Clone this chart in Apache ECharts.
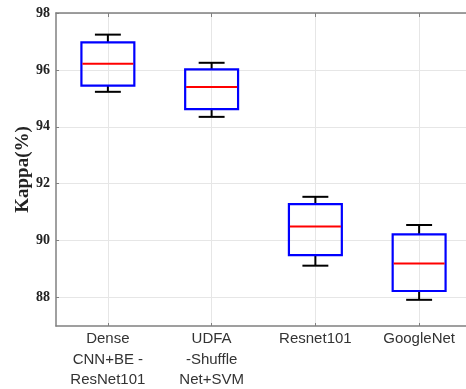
<!DOCTYPE html>
<html>
<head>
<meta charset="utf-8">
<script src="https://cdn.jsdelivr.net/npm/echarts@6/dist/echarts.min.js"></script>
<style>html,body{margin:0;padding:0;background:#fff;}#c{width:466px;height:389px;}</style>
</head>
<body>
<div id="c"></div>
<script>
const categories = ['Dense\nCNN+BE -\nResNet101', 'UDFA\n-Shuffle\nNet+SVM', 'Resnet101', 'GoogleNet'];
const whiskerLow = [95.23, 94.35, 89.12, 87.92];
const q1 = [95.45, 94.62, 89.49, 88.23];
const median = [96.22, 95.40, 90.50, 89.20];
const q3 = [96.97, 96.02, 91.28, 90.22];
const whiskerHigh = [97.24, 96.25, 91.54, 90.55];
const yTicks = [88, 90, 92, 94, 96, 98];
const xGridPositions = [1, 2, 3, 4];

const boxData = categories.map((c, i) => [i, whiskerLow[i], q1[i], median[i], q3[i], whiskerHigh[i]]);

const chart = echarts.init(document.getElementById('c'), null, {renderer: 'canvas'});
const axisColor = '#808080';
chart.setOption({
  animation: false,
  backgroundColor: '#fff',
  grid: {left: 56, top: 13, height: 313, width: 415, containLabel: false, outerBoundsMode: 'none'},
  xAxis: [{
    type: 'category',
    data: categories,
    position: 'bottom',
    boundaryGap: true,
    axisLine: {show: true, lineStyle: {color: axisColor, width: 1.5}},
    axisTick: {show: true, inside: true, alignWithLabel: true, length: 3, lineStyle: {color: axisColor}},
    axisLabel: {fontFamily: 'Liberation Sans', fontSize: 15, color: '#333', lineHeight: 20.5, margin: 3, interval: 0},
    splitLine: {show: false}
  }, {
    type: 'value',
    position: 'top',
    min: 0.5,
    max: 4.5,
    axisLine: {show: true, onZero: false, lineStyle: {color: axisColor, width: 1.5}},
    axisTick: {show: true, inside: true, length: 4, customValues: xGridPositions, lineStyle: {color: axisColor}},
    axisLabel: {show: false},
    splitLine: {show: true, lineStyle: {color: '#e6e6e6', width: 1}}
  }],
  yAxis: {
    type: 'value',
    min: 87,
    max: 98,
    name: 'Kappa(%)',
    nameLocation: 'middle',
    nameGap: 23.5,
    nameMoveOverlap: false,
    nameTextStyle: {fontFamily: 'Liberation Serif', fontWeight: 'bold', fontSize: 19, color: '#222'},
    axisLine: {show: true, lineStyle: {color: axisColor, width: 1.5}},
    axisTick: {show: true, inside: true, length: 3, customValues: yTicks, lineStyle: {color: axisColor}},
    axisLabel: {customValues: yTicks, fontFamily: 'Liberation Serif', fontWeight: 'bold', fontSize: 14, color: '#222', margin: 6},
    splitLine: {show: true, lineStyle: {color: '#e6e6e6', width: 1}}
  },
  series: [{
    type: 'custom',
    xAxisIndex: 0,
    yAxisIndex: 0,
    data: boxData,
    encode: {x: 0, y: [1, 2, 3, 4, 5]},
    renderItem: function (params, api) {
      const x = api.value(0);
      const pMin = api.coord([x, api.value(1)]);
      const pQ1 = api.coord([x, api.value(2)]);
      const pMed = api.coord([x, api.value(3)]);
      const pQ3 = api.coord([x, api.value(4)]);
      const pMax = api.coord([x, api.value(5)]);
      const band = api.size([1, 0])[0];
      const bw = band * 0.51;
      const cw = bw * 0.49;
      const cx = pMed[0];
      const black = {stroke: '#000', lineWidth: 2, fill: null};
      return {
        type: 'group',
        children: [
          {type: 'line', shape: {x1: cx, y1: pQ3[1], x2: cx, y2: pMax[1]}, style: black},
          {type: 'line', shape: {x1: cx, y1: pQ1[1], x2: cx, y2: pMin[1]}, style: black},
          {type: 'line', shape: {x1: cx - cw / 2, y1: pMax[1], x2: cx + cw / 2, y2: pMax[1]}, style: black},
          {type: 'line', shape: {x1: cx - cw / 2, y1: pMin[1], x2: cx + cw / 2, y2: pMin[1]}, style: black},
          {type: 'rect', shape: {x: cx - bw / 2, y: pQ3[1], width: bw, height: pQ1[1] - pQ3[1]}, style: {stroke: '#0000ff', lineWidth: 2.2, fill: null}},
          {type: 'line', shape: {x1: cx - bw / 2 + 1, y1: pMed[1], x2: cx + bw / 2 - 1, y2: pMed[1]}, style: {stroke: '#ff0000', lineWidth: 2}}
        ]
      };
    }
  }]
});
</script>
</body>
</html>
